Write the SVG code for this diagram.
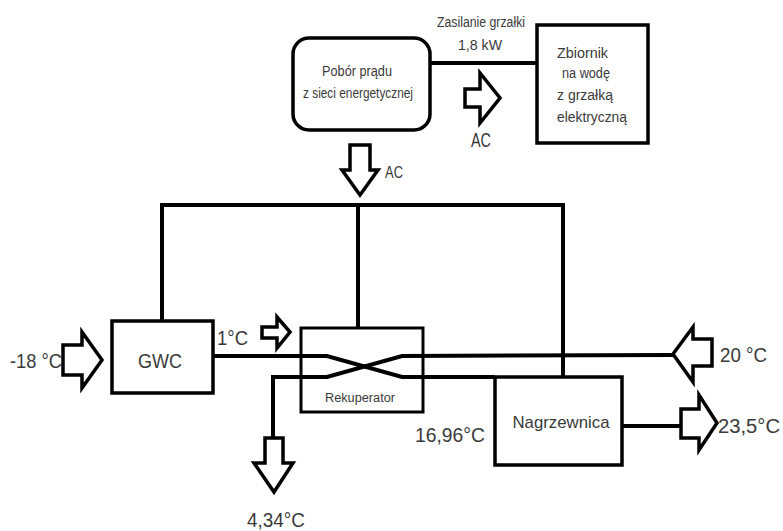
<svg xmlns="http://www.w3.org/2000/svg" width="783" height="531" viewBox="0 0 783 531">
<style>
.box{fill:#fff;stroke:#000;stroke-width:3.5}
.ln{fill:none;stroke:#000;stroke-width:4;stroke-linejoin:miter}
.arr{fill:#fff;stroke:#000;stroke-width:3.5;stroke-linejoin:miter}
.t{font-family:"Liberation Sans Narrow","Liberation Sans",Arial,sans-serif;fill:#3a3a3a}
.s{font-size:14px}
.m{font-size:17px}
.l{font-size:20px}
</style>
<rect width="783" height="531" fill="#fff"/>
<g id="connectors">
<polyline class="ln" points="430,63 537,63"/>
<polyline class="ln" points="162,321 162,205 563,205 563,377"/>
<polyline class="ln" points="358,205 358,328"/>
<polyline class="ln" points="213,356 327,356 402,377 495,377"/>
<polyline class="ln" points="273,438 273,377 327,377 402,356 673,355"/>
<polyline class="ln" points="622,426 681,426"/>
</g>
<g id="power">
<rect class="box" x="293" y="38" width="137" height="92" rx="16"/>
<text class="t s" x="357" y="76" text-anchor="middle" textLength="70" lengthAdjust="spacingAndGlyphs">Pobór prądu</text>
<text class="t s" x="358" y="98" text-anchor="middle" textLength="110" lengthAdjust="spacingAndGlyphs">z sieci energetycznej</text>
</g>
<g id="tank">
<rect class="box" x="537" y="25" width="111" height="118"/>
<text class="t s" x="557" y="58" textLength="51" lengthAdjust="spacingAndGlyphs">Zbiornik</text>
<text class="t s" x="562" y="78" textLength="48" lengthAdjust="spacingAndGlyphs">na wodę</text>
<text class="t s" x="557" y="100" textLength="56" lengthAdjust="spacingAndGlyphs">z grzałką</text>
<text class="t s" x="557" y="122" textLength="70" lengthAdjust="spacingAndGlyphs">elektryczną</text>
</g>
<g id="supply-label">
<text class="t s" x="481" y="27" text-anchor="middle" textLength="88" lengthAdjust="spacingAndGlyphs">Zasilanie grzałki</text>
<text class="t s" x="480" y="50" text-anchor="middle" textLength="44" lengthAdjust="spacingAndGlyphs">1,8 kW</text>
</g>
<g id="arrow-ac-right">
<polygon class="arr" points="465,89 480,89 480,73 500,98 480,123 480,107 465,107"/>
<text class="t l" x="481" y="147" text-anchor="middle" textLength="20" lengthAdjust="spacingAndGlyphs">AC</text>
</g>
<g id="arrow-ac-down">
<polygon class="arr" points="350,145 370,145 370,170 378,170 360,195 342,170 350,170"/>
<text class="t m" x="385" y="178" textLength="18" lengthAdjust="spacingAndGlyphs">AC</text>
</g>
<g id="gwc">
<rect class="box" x="112" y="321" width="101" height="72"/>
<text class="t l" x="160" y="368" text-anchor="middle" textLength="44" lengthAdjust="spacingAndGlyphs" fill="#555">GWC</text>
</g>
<g id="in-air">
<polygon class="arr" points="63,345 82,345 82,332 102,360 82,388 82,375 63,375"/>
<text class="t l" x="10" y="368" textLength="52" lengthAdjust="spacingAndGlyphs">-18 °C</text>
</g>
<g id="gwc-out">
<polygon class="arr" points="262,327 277,327 277,317 290,332 277,348 277,338 262,338"/>
<text class="t l" x="217" y="345" textLength="31" lengthAdjust="spacingAndGlyphs">1°C</text>
</g>
<g id="rekuperator">
<rect fill="none" stroke="#000" stroke-width="3" x="301" y="328" width="122" height="84"/>
<text class="t" font-size="12" x="360" y="402" text-anchor="middle" textLength="70" lengthAdjust="spacingAndGlyphs">Rekuperator</text>
</g>
<g id="room-air">
<polygon class="arr" points="673,354 693,327 693,339 712,339 712,366 693,366 693,382"/>
<text class="t l" x="720" y="362" textLength="47" lengthAdjust="spacingAndGlyphs">20 °C</text>
</g>
<g id="nagrzewnica">
<rect class="box" x="495" y="377" width="127" height="88"/>
<text class="t m" x="561" y="428" text-anchor="middle" textLength="97" lengthAdjust="spacingAndGlyphs">Nagrzewnica</text>
<text class="t l" x="415" y="442" textLength="70" lengthAdjust="spacingAndGlyphs">16,96°C</text>
</g>
<g id="supply-out">
<polygon class="arr" points="681,409 699,409 699,395 717,423 699,450 699,438 681,438"/>
<text class="t l" x="718" y="433" textLength="62" lengthAdjust="spacingAndGlyphs">23,5°C</text>
</g>
<g id="exhaust">
<polygon class="arr" points="265,438 283,438 283,463 293,463 274,492 254,463 265,463"/>
<text class="t l" x="276" y="527" text-anchor="middle" textLength="58" lengthAdjust="spacingAndGlyphs">4,34°C</text>
</g>
</svg>
